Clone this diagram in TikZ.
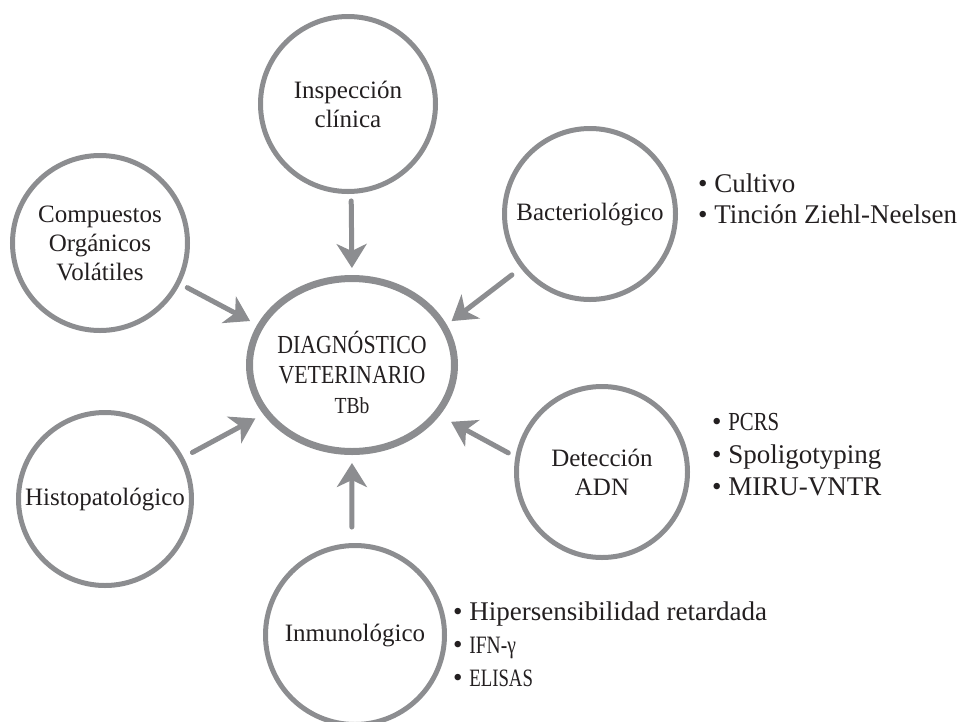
\documentclass[tikz,border=0pt]{standalone}
\usepackage{fontspec}
\setmainfont{Liberation Serif}
\usetikzlibrary{arrows.meta,shapes.geometric}
\definecolor{rimgray}{RGB}{140,141,144}
\definecolor{txt}{RGB}{35,31,32}
\begin{document}
\begin{tikzpicture}[x=1pt,y=-1pt,
  bubble/.style={circle,draw=rimgray,line width=5pt,inner sep=0pt,align=center,text=txt,
    font=\fontsize{25}{29}\selectfont},
  hub/.style={ellipse,draw=rimgray,line width=7pt,inner sep=0pt,minimum width=205pt,minimum height=173pt},
  hubtext/.style={align=center,text=txt,inner sep=0pt,font=\fontsize{26}{30}\selectfont},
  feed/.style={draw=rimgray,line width=5pt,line cap=round,-{Stealth[length=24pt,width=30pt,inset=7pt]}},
  item/.style={anchor=base west,inner sep=0pt,text=txt,font=\fontsize{27}{32}\selectfont}
]
\useasboundingbox (0,0) rectangle (969,721);

% hub
\node[hub] (diag) at (352,365) {};
\node[hubtext] (diagtxt) at (352,372) {\scalebox{0.84}[1]{DIAGNÓSTICO}\\\scalebox{0.84}[1]{VETERINARIO}\\{\fontsize{23}{30}\selectfont\scalebox{0.85}[1]{TBb}}};

% satellites
\node[bubble,minimum size=175pt] (top)  at (348,104) {Inspección\\clínica};
\node[bubble,minimum size=171pt] (bact) at (590,214) {Bacteriológico};
\node[bubble,minimum size=175pt] (comp) at (100,243) {Compuestos\\Orgánicos\\Volátiles};
\node[bubble,minimum size=173pt] (hist) at (105,499) {Histopatológico};
\node[bubble,minimum size=171pt] (det)  at (602,472) {Detección\\ADN};
\node[bubble,minimum size=179pt] (inmu) at (355,635) {Inmunológico};

% arrows
\draw[feed,shorten <=7pt,shorten >=7pt]  (top.-88)  -- (diag.90);
\draw[feed,shorten <=8pt,shorten >=8pt]  (comp.333) -- (diag.157);
\draw[feed,shorten <=11pt,shorten >=6pt] (bact.218) -- (diag.23);
\draw[feed,shorten <=10pt,shorten >=9pt] (hist.28)  -- (diag.209);
\draw[feed,shorten <=8pt,shorten >=13pt] (det.170)  -- (diag.330);
\draw[feed,shorten <=16pt,shorten >=8pt] (inmu.92)  -- (diag.270);

% lists
\node[item] (b1) at (698,192) {• Cultivo};
\node[item] (b2) at (698,223) {• Tinción Ziehl-Neelsen};

\node[item] (d1) at (712,430) {• {\fontsize{26}{30}\selectfont\scalebox{0.8}[1]{PCRS}}};
\node[item] (d2) at (712,463) {• Spoligotyping};
\node[item] (d3) at (712,495) {• MIRU-VNTR};

\node[item] (i1) at (453,620) {• Hipersensibilidad retardada};
\node[item] (i2) at (453,653) {• {\fontsize{25}{28}\selectfont\scalebox{0.78}[1]{IFN-γ}}};
\node[item] (i3) at (453,686) {• {\fontsize{25}{28}\selectfont\scalebox{0.75}[1]{ELISAS}}};
\end{tikzpicture}
\end{document}
